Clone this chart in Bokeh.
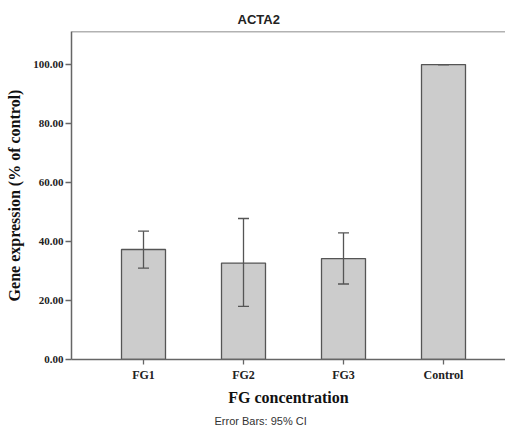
from bokeh.plotting import figure
from bokeh.models import (ColumnDataSource, Range1d, Whisker, TeeHead, FixedTicker,
                          Title, Span, NumeralTickFormatter)
from bokeh.embed import file_html
from bokeh.resources import INLINE

categories = ["FG1", "FG2", "FG3", "Control"]
means = [37.3, 32.7, 34.2, 100.0]
ci_lower = [31.0, 18.0, 25.6, 100.0]
ci_upper = [43.5, 47.8, 42.9, 100.0]
y_ticks = [0, 20, 40, 60, 80, 100]

x_pos = list(range(1, len(categories) + 1))
src = ColumnDataSource(dict(x=x_pos, cat=categories, mean=means, lo=ci_lower, hi=ci_upper))

Y_END = 111.2
p = figure(width=505, height=431, output_backend="svg", toolbar_location=None,
           x_range=Range1d(0.28, 4.62),
           y_range=Range1d(0, Y_END),
           min_border_left=71, min_border_top=31, min_border_bottom=72, min_border_right=0)
p.outline_line_color = None
p.background_fill_color = "white"
p.border_fill_color = "white"
p.xgrid.visible = False
p.ygrid.visible = False

p.vbar(x="x", top="mean", width=0.44, source=src,
       fill_color="#cccccc", line_color="#555555", line_width=1.3)

w = Whisker(base="x", lower="lo", upper="hi", source=src, level="overlay",
            line_color="#555555", line_width=1.3,
            upper_head=TeeHead(size=11, line_color="#555555", line_width=1.3),
            lower_head=TeeHead(size=11, line_color="#555555", line_width=1.3))
p.add_layout(w)

p.add_layout(Span(location=Y_END, dimension="width", line_color="#666666", line_width=1.5))

axis_col = "#666666"
p.yaxis.ticker = y_ticks
p.yaxis.formatter = NumeralTickFormatter(format="0.00")
p.yaxis.axis_line_color = axis_col
p.yaxis.axis_line_width = 1.5
p.yaxis.major_tick_line_color = axis_col
p.yaxis.major_tick_line_width = 1.3
p.yaxis.major_tick_in = 0
p.yaxis.major_tick_out = 6
p.yaxis.minor_tick_line_color = None
p.yaxis.major_label_text_font = "Liberation Serif"
p.yaxis.major_label_text_font_style = "bold"
p.yaxis.major_label_text_font_size = "11px"
p.yaxis.major_label_text_color = "#222222"
p.yaxis.major_label_standoff = 2
p.yaxis.axis_label = "Gene expression (% of control)"
p.yaxis.axis_label_text_font = "Liberation Serif"
p.yaxis.axis_label_text_font_style = "bold"
p.yaxis.axis_label_text_font_size = "16px"
p.yaxis.axis_label_text_color = "#111111"
p.yaxis.axis_label_standoff = 7

p.xaxis.ticker = FixedTicker(ticks=x_pos)
p.xaxis.major_label_overrides = {x: c for x, c in zip(x_pos, categories)}
p.xaxis.axis_line_color = axis_col
p.xaxis.axis_line_width = 1.5
p.xaxis.major_tick_line_color = axis_col
p.xaxis.major_tick_line_width = 1.3
p.xaxis.major_tick_in = 0
p.xaxis.major_tick_out = 5
p.xaxis.minor_tick_line_color = None
p.xaxis.major_label_text_font = "Liberation Serif"
p.xaxis.major_label_text_font_style = "bold"
p.xaxis.major_label_text_font_size = "12px"
p.xaxis.major_label_text_color = "#222222"
p.xaxis.major_label_standoff = 3
p.xaxis.axis_label = "FG concentration"
p.xaxis.axis_label_text_font = "Liberation Serif"
p.xaxis.axis_label_text_font_style = "bold"
p.xaxis.axis_label_text_font_size = "16px"
p.xaxis.axis_label_text_color = "#111111"
p.xaxis.axis_label_standoff = 4

p.add_layout(Title(text="ACTA2", align="left", offset=166, text_font="Liberation Sans",
                   text_font_style="bold", text_font_size="13px", text_color="#222222"), "above")
p.add_layout(Title(text="Error Bars: 95% CI", align="left", offset=143, standoff=8,
                   text_font="Liberation Sans", text_font_style="normal",
                   text_font_size="11px", text_color="#333333"), "below")

open("out.html", "w").write(file_html(p, INLINE))
